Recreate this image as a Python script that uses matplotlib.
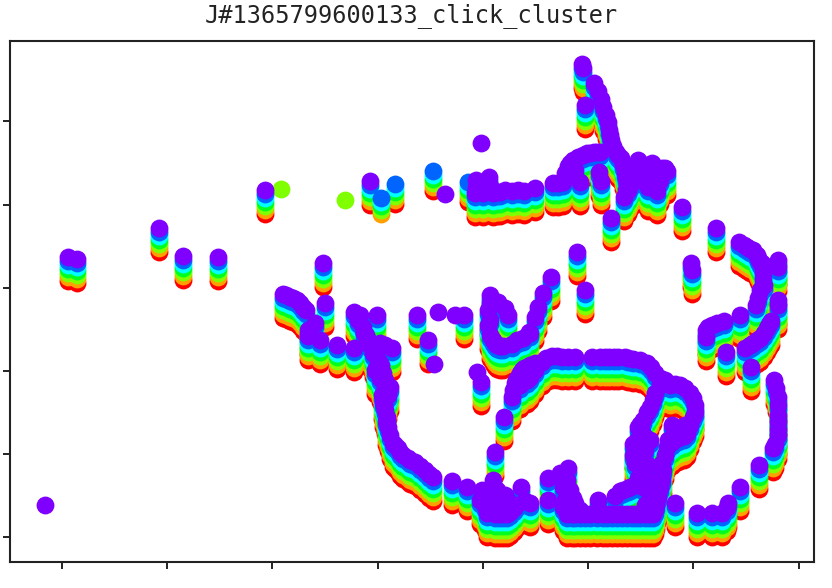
import numpy as np
import matplotlib
matplotlib.use("Agg")
import matplotlib.pyplot as plt

title = "J#1365799600133_click_cluster"

# points, position of the top (purple) circle in each stack
left_x = [68, 77, 159, 183, 218, 265, 323, 370]
left_y = [257, 259, 228, 256, 257, 190, 263, 181]

top_row_x = [476, 489, 475, 483, 493, 505, 518, 535, 553, 563, 580, 599, 601, 611, 577, 585, 585, 582, 583,
             480, 476, 486, 490, 497, 500, 512, 524, 558, 570, 575]
top_row_y = [180, 177, 193, 193, 193, 190, 190, 188, 183, 182, 182, 172, 181, 218, 252, 105, 290, 64, 68,
             190, 187, 186, 186, 192, 192, 191, 191, 183, 175, 170]

spike_x = [594, 598, 601, 603, 606, 608, 609, 610, 611, 613, 616, 618, 621, 623, 625, 626, 627, 628, 624,
           600, 597, 594, 590, 587, 583, 578, 573, 570, 568, 565]
spike_y = [83, 91, 99, 107, 115, 122, 130, 135, 140, 146, 152, 155, 158, 165, 173, 178, 183, 190, 197,
           152, 152, 152, 153, 153, 155, 157, 160, 163, 166, 173]

hump_x = [630, 638, 643, 648, 652, 657, 662, 665, 667, 682, 716, 691, 692,
          632, 636, 642, 645, 650, 655, 658, 647, 660, 650, 637, 630, 626]
hump_y = [177, 160, 180, 187, 163, 191, 168, 168, 171, 207, 228, 263, 270,
          168, 172, 170, 175, 172, 175, 170, 165, 180, 180, 180, 185, 190]

right_x = [739, 744, 747, 750, 753, 757, 758, 760, 762, 763, 763, 764, 763, 760, 758, 756,
           778, 778, 778, 778, 771, 769, 767, 764, 760, 757, 753, 750,
           706, 706, 708, 712, 717, 724, 740, 726, 745, 751]
right_y = [242, 245, 247, 249, 250, 255, 258, 262, 263, 268, 273, 285, 280, 290, 298, 305,
           260, 267, 300, 305, 321, 324, 328, 333, 338, 340, 343, 345,
           330, 337, 327, 325, 323, 321, 315, 352, 348, 367]

edge_x = [774, 776, 778, 778, 778, 778, 778, 778, 775, 773, 759, 740, 728, 727, 722, 712, 697, 675]
edge_y = [380, 388, 397, 405, 415, 422, 430, 435, 444, 448, 465, 487, 503, 507, 513, 513, 513, 503]

diag_x = [283, 286, 290, 293, 297, 300, 303, 306, 325, 315, 308, 308, 320, 337, 354, 358, 360, 364, 366, 377, 354, 363,
          368, 370, 375, 380, 385, 392]
diag_y = [294, 295, 297, 298, 300, 303, 307, 310, 303, 323, 330, 336, 340, 345, 312, 320, 315, 333, 335, 315, 348, 327,
          340, 345, 345, 343, 345, 348]

curve_x = [373, 375, 378, 381, 383, 380, 385, 390, 385, 382, 388, 383, 384, 385, 386, 387, 388, 390, 393, 395,
           398, 400, 403, 408, 410, 415, 420, 425, 429, 433, 452, 467]
curve_y = [353, 370, 360, 365, 373, 378, 387, 387, 380, 395, 395, 403, 405, 410, 421, 417, 427, 435, 443, 445,
           448, 452, 455, 458, 460, 462, 466, 470, 474, 477, 481, 487]

mid_x = [417, 464, 428, 481, 504, 495, 490, 490, 498, 505, 508, 488, 488, 490, 490, 493, 495, 497, 500, 503, 512, 517,
         523, 529, 543, 551, 538, 535, 530]
mid_y = [315, 315, 340, 382, 417, 452, 295, 303, 302, 308, 315, 310, 325, 320, 335, 340, 343, 345, 346, 346, 344, 340,
         338, 332, 293, 277, 307, 317, 333]

rise_x = [512, 513, 515, 516, 518, 520, 522, 524, 527, 530, 535, 530, 527, 520]
rise_y = [397, 390, 383, 380, 377, 373, 370, 368, 367, 365, 363, 377, 380, 385]

bottom_a_x = [493, 482, 480, 483, 485, 487, 488, 490, 495, 497, 499, 500, 503, 505, 507, 510, 514, 516, 493, 507,
              521, 525, 530, 548, 548]
bottom_a_y = [480, 490, 500, 497, 506, 513, 495, 508, 514, 490, 514, 505, 514, 495, 514, 512, 508, 505, 497, 500,
              487, 501, 503, 478, 500]

arch_x = [535, 542, 546, 552, 557, 562, 568, 575, 592, 600, 605, 609, 614, 618, 625, 628, 633, 640, 647, 651, 655,
          660, 660, 665, 670, 675, 680, 685, 690, 693, 695, 695, 693, 690, 687, 684, 678, 672, 667, 665,
          662, 663, 662, 660, 658, 658, 656, 655]
arch_y = [370, 362, 358, 356, 356, 357, 357, 357, 357, 357, 357, 357, 357, 357, 357, 358, 359, 360, 363, 367, 373,
          378, 385, 380, 385, 384, 385, 388, 393, 398, 405, 412, 417, 425, 433, 436, 438, 442, 447, 455,
          463, 470, 480, 488, 480, 497, 505, 510]

strand_x = [655, 653, 650, 647, 643, 640, 638, 642, 645, 637, 633, 637, 633, 635, 640, 643, 638, 637, 630, 623, 620,
            615, 643, 650, 645, 648, 650, 650, 645, 672, 680, 668, 685, 628, 635]
strand_y = [393, 400, 407, 412, 420, 424, 427, 432, 437, 440, 444, 452, 455, 463, 468, 473, 478, 483, 487, 490, 491,
            496, 487, 440, 450, 465, 480, 495, 505, 425, 428, 440, 425, 488, 485]

bottom_b_x = [568, 567, 560, 563, 565, 570, 573, 575, 580, 563, 567, 572, 575, 580, 585, 590, 597, 598, 603, 607, 612,
              617, 622, 627, 632, 636, 640, 645, 649, 653]
bottom_b_y = [468, 480, 473, 487, 500, 490, 498, 503, 510, 507, 514, 514, 514, 514, 514, 514, 514, 500, 514, 514, 514,
              514, 514, 514, 514, 514, 514, 514, 514, 514]

# stacks that stop short of purple, y is where purple would have been
blue_top_x = [395, 433, 468]
blue_top_y = [180, 167, 178]
blue_to_orange_x = [381]
blue_to_orange_y = [194]

# lone circles
lone_purple_x = [45, 445, 481, 438, 455, 434, 477]
lone_purple_y = [505, 194, 143, 312, 315, 364, 372]
lone_green_x = [281, 345]
lone_green_y = [189, 200]

level_colors = ["#ff0000", "#ffa000", "#80ff00", "#00ff20", "#00ffff", "#0064ff", "#7f00ff"]
level_drop = [24, 20, 16, 12, 8, 4, 0]

x_ticks = [62, 167, 272, 378, 483, 588, 693, 799]
y_ticks = [121, 205, 288, 371, 454, 537]

full_x = np.array(left_x + top_row_x + spike_x + hump_x + right_x + edge_x + diag_x + curve_x
                  + mid_x + rise_x + bottom_a_x + arch_x + strand_x + bottom_b_x)
full_y = np.array(left_y + top_row_y + spike_y + hump_y + right_y + edge_y + diag_y + curve_y
                  + mid_y + rise_y + bottom_a_y + arch_y + strand_y + bottom_b_y)

W, H = 832, 588
fig = plt.figure(figsize=(W / 100, H / 100), dpi=100)
ax = fig.add_axes([9.5 / W, 1 - 562 / H, (814 - 9.5) / W, (562 - 40.5) / H])

# red first, purple last, so the upper colours cover the lower ones
for i, (color, drop) in enumerate(zip(level_colors, level_drop)):
    xs = [full_x]
    ys = [full_y + drop]
    if i < 6:
        xs.append(np.array(blue_top_x))
        ys.append(np.array(blue_top_y) + drop)
    if 1 <= i < 6:
        xs.append(np.array(blue_to_orange_x))
        ys.append(np.array(blue_to_orange_y) + drop)
    if color == "#80ff00":
        xs.append(np.array(lone_green_x))
        ys.append(np.array(lone_green_y))
    if color == "#7f00ff":
        xs.append(np.array(lone_purple_x))
        ys.append(np.array(lone_purple_y))
    ax.scatter(np.concatenate(xs), np.concatenate(ys), s=165, color=color, linewidths=0)

ax.set_xlim(9.5, 814)
ax.set_ylim(562, 40.5)
ax.set_xticks(x_ticks)
ax.set_yticks(y_ticks)
ax.set_xticklabels([])
ax.set_yticklabels([])
ax.tick_params(length=5, width=1.4, color="#222222")
for s in ax.spines.values():
    s.set_linewidth(1.5)
    s.set_color("#222222")

fig.text(411 / W, 1 - 16 / H, title, ha="center", va="center", fontsize=17,
         family="DejaVu Sans Mono", color="#222222")

fig.savefig("out.png", dpi=100)
